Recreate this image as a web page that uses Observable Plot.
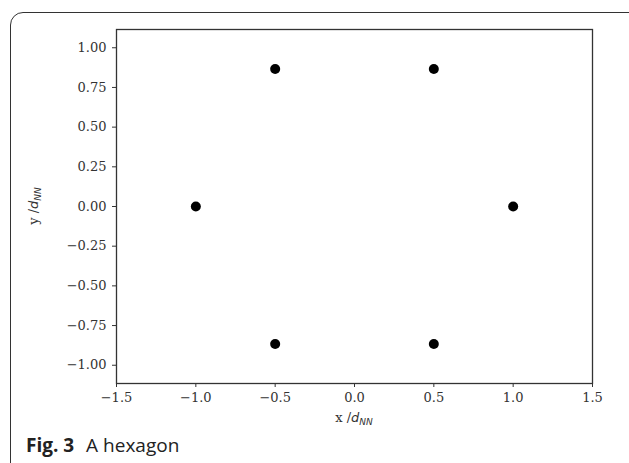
<!DOCTYPE html>
<html><head><meta charset="utf-8">
<script src="https://cdn.jsdelivr.net/npm/d3@7"></script>
<script src="https://cdn.jsdelivr.net/npm/@observablehq/plot@0.6"></script>
<style>
body{margin:0;background:#fff;width:629px;height:463px;overflow:hidden;position:relative;font-family:"Open Sans",sans-serif}
#box{position:absolute;left:10px;top:12px;width:660px;height:480px;border:1.3px solid #333;border-radius:13px;box-sizing:border-box}
#chart{position:absolute;left:0;top:0}
#cap{position:absolute;left:26px;top:433px;font-size:19px;line-height:24px;color:#222;font-family:"Open Sans",sans-serif;white-space:nowrap}
#cap b{font-weight:700;margin-right:7px}
</style></head><body>
<div id="box"></div>
<div id="chart"></div>
<div id="cap"><b>Fig. 3</b> A hexagon</div>
<script>
const xs = [1, 0.5, -0.5, -1, -0.5, 0.5];
const ys = [0, 0.866, 0.866, 0, -0.866, -0.866];
const xTicks = [-1.5, -1.0, -0.5, 0.0, 0.5, 1.0, 1.5];
const yTicks = [-1.0, -0.75, -0.5, -0.25, 0.0, 0.25, 0.5, 0.75, 1.0];

const pts = xs.map((x, i) => ({x, y: ys[i]}));
const minus = s => s.replace("-", "\u2212");
const W = 629, H = 440;
const FS = 13;
const serif = "'DejaVu Serif', serif";
const svg = Plot.plot({
  width: W, height: H,
  marginLeft: 116, marginRight: 37, marginTop: 29, marginBottom: 57,
  style: {background: "transparent"},
  x: {domain: [-1.5, 1.5]},
  y: {domain: [-1.115, 1.115]},
  marks: [
    Plot.axisX(xTicks, {tickFormat: d => minus(d.toFixed(1)), label: null, tickSize: 4, tickPadding: 5,
      fontSize: FS, fontFamily: serif, fill: "#333", stroke: "#333"}),
    Plot.axisY(yTicks, {tickFormat: d => minus(d.toFixed(2)), label: null, tickSize: 4, tickPadding: 6,
      fontSize: FS, fontFamily: serif, fill: "#333", stroke: "#333"}),
    Plot.frame({stroke: "#333", strokeWidth: 1.3}),
    Plot.dot(pts, {x: "x", y: "y", r: 5, fill: "black", stroke: "none"})
  ]
});
svg.style.overflow = "visible";
const s = d3.select(svg);
function addLabel(t, attrs) {
  const el = s.append("text").attr("text-anchor", "middle").attr("font-family", serif)
    .attr("font-size", FS).attr("fill", "#333");
  for (const k in attrs) el.attr(k, attrs[k]);
  el.append("tspan").text(t + " /");
  el.append("tspan").attr("font-family", "'DejaVu Sans', sans-serif").attr("font-style", "italic").text("d");
  el.append("tspan").attr("font-family", "'DejaVu Sans', sans-serif").attr("font-style", "italic")
    .attr("font-size", 9).attr("dy", 3).text("NN");
}
addLabel("x", {x: 354, y: 422});
addLabel("y", {transform: "translate(38,206) rotate(-90)"});
document.getElementById("chart").appendChild(svg);
</script>
</body></html>
